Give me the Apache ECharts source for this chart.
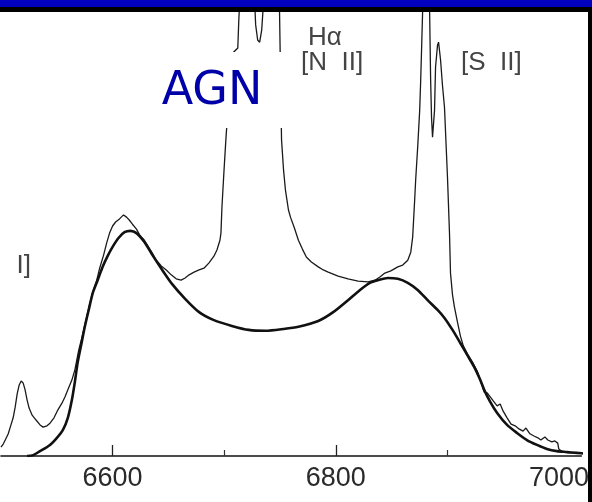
<!DOCTYPE html>
<html>
<head>
<meta charset="utf-8">
<script src="https://cdn.jsdelivr.net/npm/echarts@6/dist/echarts.min.js"></script>
<style>
  html, body { margin: 0; padding: 0; background: #fff; }
  #chart { width: 592px; height: 502px; }
</style>
</head>
<body>
<div id="chart"></div>
<script>
// Wavelength (Angstrom) and relative flux of the observed spectrum
const obsWave = [
  6500, 6502.0, 6503.8, 6506.5, 6508.3, 6510.9, 6512.7, 6514.5, 6516.3, 6518.1,
  6519.9, 6521.6, 6523.4, 6525.2, 6527.9, 6531.4, 6535.0, 6537.7, 6541.2, 6543.9,
  6547.5, 6551.0, 6554.6, 6557.3, 6559.9, 6563.5, 6566.2, 6567.9, 6569.7, 6572.4,
  6575.1, 6578.6, 6582.2, 6585.8, 6588.4, 6592.0, 6594.7, 6597.3, 6600.0, 6602.7,
  6606.2, 6609.8, 6612.5, 6615.1, 6617.8, 6621.4, 6624.9, 6628.5, 6632.1, 6635.6,
  6639.2, 6643.6, 6648.1, 6652.5, 6657.0, 6661.4, 6665.0, 6668.6, 6673.0, 6677.5,
  6681.9, 6686.4, 6690.8, 6693.5, 6696.2, 6697.1, 6698.0, 6699.7, 6701.5, 6703.3,
  6705.1, 6706.0, 6708.6, 6712.2, 6713.1, 6714.0, 6717.5, 6722.0, 6726.5, 6728.2,
  6730.0, 6731.8, 6733.6, 6735.4, 6739.8, 6746.0, 6749.6, 6751.4, 6753.2, 6754.9,
  6757.6, 6759.4, 6763.0, 6766.5, 6770.1, 6773.6, 6778.1, 6784.3, 6788.8, 6793.2,
  6802.1, 6811.0, 6820.0, 6828.9, 6835.1, 6839.5, 6844.0, 6849.3, 6855.6, 6860.0,
  6864.5, 6867.2, 6868.9, 6870.7, 6871.6, 6873.4, 6875.2, 6876.1, 6877.0, 6877.8,
  6879.6, 6882.3, 6884.1, 6885.0, 6885.8, 6886.7, 6888.5, 6889.4, 6891.2, 6892.1,
  6893.9, 6895.6, 6897.4, 6900.1, 6901.9, 6902.8, 6904.6, 6906.3, 6909.0, 6911.7,
  6914.3, 6917.9, 6922.4, 6926.8, 6930.4, 6933.0, 6935.7, 6938.4, 6941.1, 6944.6,
  6947.3, 6950.0, 6953.5, 6957.1, 6960.7, 6964.2, 6967.8, 6970.4, 6974.0, 6977.6,
  6981.1, 6983.8, 6987.4, 6990.0, 6993.6, 6996.3, 6998.9, 6999.8, 7003.4, 7008.7,
  7015.9, 7024.8
];
const obsFlux = [
  2.0, 2.7, 3.6, 5.0, 6.5, 8.6, 11.0, 14.0, 16.0, 16.9,
  16.4, 14.9, 12.6, 10.8, 9.2, 8.1, 7.0, 6.5, 6.8, 7.4,
  8.6, 10.4, 11.9, 13.3, 14.9, 17.1, 19.4, 21.6, 23.9, 26.6,
  29.5, 33.3, 36.9, 39.6, 42.3, 45.3, 48.0, 50.2, 51.8, 52.7,
  53.4, 54.3, 53.8, 53.1, 52.2, 51.1, 49.5, 48.6, 47.1, 45.7,
  44.1, 42.8, 41.9, 40.8, 39.9, 39.6, 40.1, 40.8, 41.4, 41.9,
  42.3, 43.5, 45.0, 46.4, 48.6, 50.2, 56.1, 63.7, 71.2, 77.9,
  84.7, 90.3, 91.0, 91.9, 98.2, 102.7, 120.7, 125.2, 107.2, 97.1,
  93.7, 93.2, 95.9, 102.7, 125.2, 116.2, 100.0, 71.2, 64.4, 59.9,
  55.4, 53.8, 51.3, 48.6, 46.6, 44.8, 43.7, 42.6, 41.9, 41.4,
  40.5, 39.9, 39.4, 39.2, 39.6, 40.3, 41.2, 41.7, 42.6, 43.0,
  44.1, 45.9, 49.3, 57.7, 62.2, 69.6, 77.9, 84.7, 92.6, 100.0,
  125.2, 116.2, 100.0, 84.7, 76.3, 71.8, 77.9, 87.6, 92.6, 93.2,
  89.2, 83.5, 78.6, 62.8, 50.2, 41.2, 36.3, 33.6, 30.2, 27.0,
  24.8, 23.0, 21.2, 19.1, 16.4, 14.4, 14.2, 13.3, 12.4, 11.3,
  11.7, 10.1, 8.6, 7.2, 6.8, 6.1, 5.6, 6.3, 5.0, 4.5,
  4.1, 3.6, 4.3, 3.6, 3.2, 3.4, 2.9, 1.6, 0.9, 0.7,
  0.7, 0.5
];

// Broad double-peaked (disk) model profile
const modelWave = [
  6523.4, 6528.8, 6535.0, 6543.9, 6550.1, 6555.5, 6559.9, 6563.5, 6566.2, 6568.8,
  6572.4, 6575.1, 6578.6, 6582.2, 6586.6, 6591.1, 6595.5, 6600.0, 6605.3, 6610.7,
  6616.0, 6621.4, 6628.5, 6635.6, 6644.5, 6653.4, 6665.0, 6677.5, 6690.8, 6706.9,
  6722.0, 6737.1, 6753.2, 6766.5, 6784.3, 6797.7, 6811.0, 6821.7, 6830.6, 6837.8,
  6846.7, 6855.6, 6864.5, 6873.4, 6882.3, 6891.2, 6897.4, 6904.6, 6911.7, 6917.9,
  6924.1, 6929.5, 6933.0, 6938.4, 6944.6, 6953.5, 6962.4, 6971.3, 6980.3, 6989.2,
  6998.1, 7007.0, 7015.9, 7024.8
];
const modelFlux = [
  0, 0.2, 1.1, 2.5, 4.1, 5.9, 8.6, 12.6, 16.7, 21.2,
  25.7, 29.1, 32.9, 36.7, 39.6, 42.6, 45.0, 47.1, 49.1, 50.4,
  50.7, 50.2, 48.2, 45.3, 41.9, 38.7, 35.4, 32.4, 30.6, 29.3,
  28.4, 28.2, 28.6, 29.1, 30.4, 32.4, 35.1, 37.4, 39.0, 39.6,
  40.1, 39.9, 39.0, 37.4, 35.1, 32.9, 31.1, 28.4, 25.4, 22.7,
  20.0, 17.1, 14.9, 12.2, 9.7, 7.0, 5.2, 3.6, 2.5, 1.6,
  1.1, 0.9, 0.7, 0.5
];

const labelTicks = [6600, 6800, 7000];
const majorTicks = [6600, 6800];
const minorTicks = [6700, 6900];

const zip = (xs, ys) => xs.map((x, i) => [x, ys[i]]);

const chart = echarts.init(document.getElementById('chart'), null, { renderer: 'canvas' });

const baseAxis = {
  type: 'value',
  min: 6500,
  max: 7020,
  splitLine: { show: false }
};

const labelFont = '26px "Liberation Sans", Arial, sans-serif';

chart.setOption({
  animation: false,
  backgroundColor: '#ffffff',
  grid: { left: 1, right: 6, top: 12, bottom: 46 },
  xAxis: [
    Object.assign({}, baseAxis, {
      axisLine: { show: true, lineStyle: { color: '#111', width: 1.6 } },
      axisTick: {
        show: true, inside: true, length: 11, customValues: majorTicks,
        lineStyle: { color: '#222', width: 1.3 }
      },
      axisLabel: {
        show: true, customValues: labelTicks, margin: 9,
        formatter: (v) => String(v),
        color: '#2a2a2a', fontSize: 27, fontFamily: 'Liberation Sans, Arial, sans-serif'
      }
    }),
    Object.assign({}, baseAxis, {
      position: 'bottom',
      axisLine: { show: false },
      axisTick: {
        show: true, inside: true, length: 6, customValues: minorTicks,
        lineStyle: { color: '#333', width: 1.2 }
      },
      axisLabel: { show: false }
    })
  ],
  yAxis: {
    type: 'value', min: 0, max: 100, show: false
  },
  series: [
    {
      name: 'observed',
      type: 'line',
      data: zip(obsWave, obsFlux),
      showSymbol: false,
      smooth: false,
      clip: true,
      lineStyle: { color: '#1a1a1a', width: 1.3 },
      z: 3
    },
    {
      name: 'model',
      type: 'line',
      data: zip(modelWave, modelFlux),
      showSymbol: false,
      smooth: 0.25,
      clip: true,
      lineStyle: { color: '#111', width: 2.6 },
      z: 4
    }
  ],
  graphic: [
    // line identifications
    { type: 'text', left: 308, top: 25, z: 10,
      style: { text: 'H\u03b1', fill: '#444', font: labelFont } },
    { type: 'text', left: 301, top: 50, z: 10,
      style: { text: '[N  II]', fill: '#444', font: labelFont } },
    { type: 'text', left: 461, top: 50, z: 10,
      style: { text: '[S  II]', fill: '#444', font: labelFont } },
    { type: 'text', right: 561, top: 253, z: 10,
      style: { text: '[O   I]', fill: '#444', font: labelFont } },
    // title panel
    { type: 'rect', shape: { x: 140, y: 52, width: 161, height: 76 }, z: 20,
      style: { fill: '#ffffff' } },
    { type: 'text', x: 212, y: 92, z: 21,
      style: { text: 'AGN', fill: '#0000a8', align: 'center', verticalAlign: 'middle',
               font: '46px "DejaVu Sans", sans-serif' } },
    // frame
    { type: 'rect', shape: { x: 0, y: 0, width: 592, height: 7 }, z: 30,
      style: { fill: '#0000c0' } },
    { type: 'rect', shape: { x: 0, y: 7, width: 592, height: 5 }, z: 30,
      style: { fill: '#000000' } },
    { type: 'rect', shape: { x: 588, y: 7, width: 4, height: 495 }, z: 30,
      style: { fill: '#000000' } }
  ]
});
</script>
</body>
</html>
